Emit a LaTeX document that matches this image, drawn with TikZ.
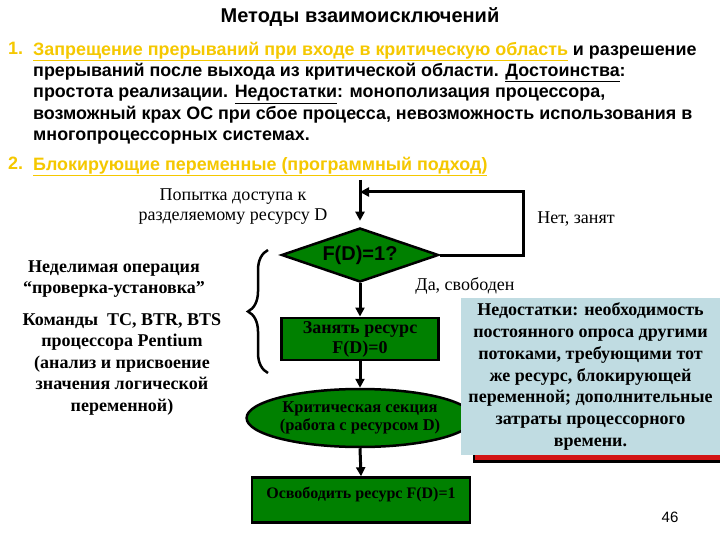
\documentclass[tikz,border=0pt]{standalone}
\usepackage{fontspec}
\setmainfont{Liberation Serif}
\setsansfont{Liberation Sans}
\usetikzlibrary{arrows.meta, shapes.geometric, decorations.pathreplacing}
\definecolor{slidegold}{RGB}{245,200,0}
\definecolor{blockgreen}{RGB}{0,128,0}
\definecolor{notebg}{RGB}{192,220,226}
\definecolor{shadowred}{RGB}{210,20,20}

\begin{document}
\begin{tikzpicture}[
      x=1pt, y=-1pt,
      >={Triangle[length=9pt, width=9pt]},
      heading/.style={font=\sffamily\bfseries\fontsize{20}{22}\selectfont},
      item/.style={font=\sffamily\bfseries\fontsize{17.9}{21.2}\selectfont, align=left, anchor=north west, inner sep=0pt},
      num/.style={font=\sffamily\bfseries\fontsize{17.9}{21}\selectfont, text=slidegold, anchor=north west, inner sep=0pt},
      caption/.style={font=\fontsize{18}{20}\selectfont, align=center, inner sep=0pt},
      remark/.style={font=\bfseries\fontsize{18}{21.5}\selectfont, align=center, inner sep=0pt},
      decision/.style={diamond, aspect=3, draw, line width=2.5pt, fill=blockgreen, inner sep=0pt, minimum width=157pt, minimum height=54pt, font=\sffamily\bfseries\fontsize{20}{22}\selectfont},
      block/.style={draw, line width=2.5pt, fill=blockgreen, align=center, font=\bfseries\fontsize{18}{20}\selectfont},
      critbox/.style={ellipse, draw, line width=2.5pt, fill=blockgreen, align=center, inner sep=0pt, font=\bfseries\fontsize{16.5}{18}\selectfont},
      note/.style={fill=notebg, align=center, inner sep=0pt, font=\bfseries\fontsize{18}{21.7}\selectfont},
      flow/.style={->, line width=3pt}
    ]
    \useasboundingbox[fill=white] (0,0) rectangle (720,540);

    \node[heading] (title) at (360, 17) {Методы взаимоисключений};

    \node[num] (num1) at (8, 42) {1.};
    \node[item] (item1) at (33, 42) {\textcolor{slidegold}{\underline{Запрещение прерываний при входе в критическую область}} и разрешение\\
      прерываний после выхода из критической области. \underline{Достоинства}:\\
      простота реализации. \underline{Недостатки}: монополизация процессора,\\
      возможный крах ОС при сбое процесса, невозможность использования в\\
      многопроцессорных системах.};
    \node[num] (num2) at (8, 157) {2.};
    \node[item] (item2) at (33, 157) {\textcolor{slidegold}{\underline{Блокирующие переменные (программный подход)}}};

    \node[caption] (attempt) at (233, 207) {Попытка доступа к\\разделяемому ресурсу D};
    \node[caption] (busy) at (576, 219) {Нет, занят};
    \node[caption] (free) at (465, 286) {Да, свободен};

    \node[remark] (atomic) at (114, 279) {Неделимая операция\\“проверка-установка”};
    \node[remark] (cmds) at (122, 364) {Команды\ \ TC, BTR, BTS\\процессора Pentium\\(анализ и присвоение\\значения логической\\переменной)};

    \node[decision] (check) at (360, 255) {F(D)=1?};
    \node[block, minimum width=157pt, minimum height=42pt] (take) at (360, 339) {Занять ресурс\\F(D)=0};
    \node[critbox, minimum width=210pt, minimum height=58pt] (crit) at (360, 418) {Критическая секция\\(работа с ресурсом D)};
    \node[block, minimum width=218pt, minimum height=45pt, text depth=14pt, text height=11pt, font=\bfseries\fontsize{16}{18}\selectfont] (release) at (361, 500) {Освободить ресурс F(D)=1};

    \fill[black] (473, 455) rectangle (720, 463);
    \fill[shadowred] (475, 455) rectangle (720, 460);
    \node[note, minimum width=259pt, minimum height=157pt] (cons) at (590.5, 376.5) {Недостатки: необходимость\\постоянного опроса другими\\потоками, требующими тот\\же ресурс, блокирующей\\переменной; дополнительные\\затраты процессорного\\времени.};

    \node[font=\sffamily\fontsize{15}{18}\selectfont] (page) at (670, 517) {46};

    \coordinate (start) at (360, 180);
    \coordinate (loopR) at (523, 192);
    \coordinate (join) at (360, 192);

    \draw[flow, shorten >=6pt] (start) -- (check.north);
    \draw[flow] (check.east) -| (loopR) -- (join);
    \draw[flow] (check.south) -- (take.north);
    \draw[flow] (take.south) -- (crit.north);
    \draw[flow] (crit.south) -- (release.north);

    \draw[line width=2.5pt, decorate, decoration={brace, amplitude=20pt}] (268, 373) -- (268, 250);

  \end{tikzpicture}
\end{document}
